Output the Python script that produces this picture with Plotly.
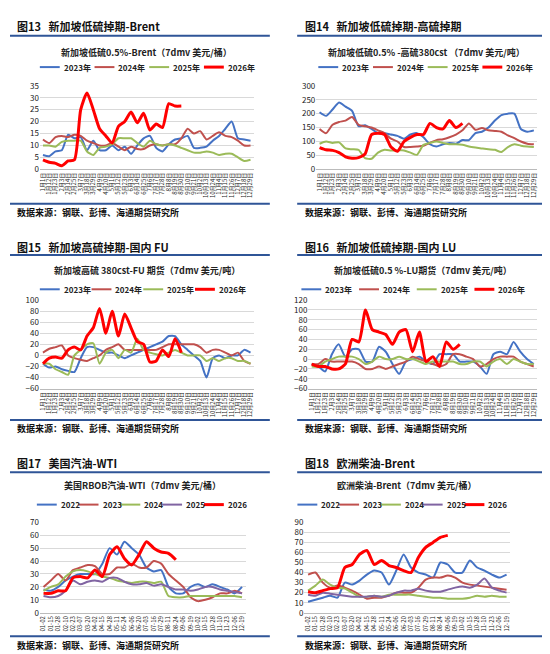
import plotly.graph_objects as go

# x-axis tick labels
days_a = ["1月1日", "1月12日", "1月23日", "2月3日", "2月14日", "2月25日", "3月7日", "3月18日", "3月29日",
          "4月9日", "4月20日", "5月1日", "5月12日", "5月23日", "6月3日", "6月14日", "6月25日", "7月6日",
          "7月17日", "7月28日", "8月8日", "8月19日", "8月30日", "9月10日", "9月21日", "10月2日", "10月13日",
          "10月24日", "11月4日", "11月15日", "11月26日", "12月7日", "12月18日", "12月29日"]
days_b = ["01-02", "01-15", "01-28", "02-10", "02-23", "03-07", "03-20", "04-02", "04-15", "04-28",
          "05-11", "05-24", "06-06", "06-20", "07-03", "07-16", "07-29", "08-11", "08-24", "09-06",
          "09-19", "10-02", "10-15", "10-28", "11-10", "11-23", "12-06", "12-19"]

# 图13 新加坡低硫-Brent
f13_2023 = [6, 5.5, 7.5, 8, 14.5, 13, 13.5, 8, 12, 8, 8, 10, 8, 9.5, 6.5, 10, 13, 14, 9, 7.5, 10.5, 12.5, 13, 14,
            9, 9, 9.5, 12, 14, 17, 20, 13, 12.5, 12]
f13_2024 = [12.5, 11, 13.5, 14, 13.5, 14.5, 14, 12, 11, 10, 10, 11, 9.5, 8, 9.5, 8.5, 8.5, 10, 10.5, 10, 10.5,
            10.5, 13, 17, 15, 16, 12.5, 14, 15.5, 14, 13.5, 12, 10, 10]
f13_2025 = [10, 10, 9.5, 11.5, 12, 12, 12, 7.5, 6, 9, 9.5, 10.5, 13, 13, 13, 11, 9.5, 12, 10.5, 10, 10.5, 10, 9,
            8, 7, 7, 7.5, 7, 6, 6.5, 6.5, 5, 3.5, 4]
f13_2026 = [4, 3, 2.5, 1.5, 3.5, 4, 25, 32, 25, 17, 14, 11, 18, 20, 24, 19.5, 23.5, 16.5, 19, 17.5, 27.5, 26.5, 26.5]

# 图14 新加坡低硫-高硫380cst
f14_2023 = [205, 192, 215, 240, 225, 210, 155, 158, 145, 130, 130, 125, 120, 110, 125, 130, 115, 90, 82, 90, 95,
            92, 105, 105, 130, 135, 150, 175, 195, 200, 200, 145, 135, 140]
f14_2024 = [145, 130, 160, 170, 175, 188, 160, 155, 150, 140, 130, 110, 100, 80, 80, 82, 85, 95, 105, 108, 115,
            125, 140, 165, 142, 148, 140, 138, 135, 122, 112, 100, 92, 90]
f14_2025 = [92, 100, 95, 97, 75, 72, 70, 40, 38, 60, 70, 68, 68, 68, 60, 52, 88, 95, 100, 95, 90, 90, 88, 82, 78,
            75, 72, 70, 62, 80, 90, 85, 82, 80]
f14_2026 = [78, 70, 68, 60, 45, 40, 42, 55, 125, 130, 125, 80, 65, 100, 115, 125, 125, 165, 150, 145, 175, 150, 165]

# 图15 高硫380cst-FU
f15_2023 = [-15, -22, -20, -25, -28, -30, -5, 15, 15, 10, 5, 5, 0, -5, 0, 5, 10, 15, 20, 25, 35, 35, 20, 10, 0,
            -10, -40, -5, 0, -5, 0, 0, 10, 5]
f15_2024 = [5, 12, 15, 18, 0, -5, -8, -10, -5, 0, 10, 15, 20, 10, 10, 10, 10, 10, 10, 15, 20, 20, 20, 20, 20, 15,
            5, 10, 10, 5, 0, 5, -10, -15]
f15_2025 = [-15, -15, -25, -30, -35, 0, 10, 20, 22, -15, 5, 10, -5, 10, 5, 30, 10, 5, 2, 0, 5, 10, 5, 0, 0, 0,
            -10, -5, -10, -5, -5, -10, -10, -15]
f15_2026 = [-15, -5, -3, -5, 10, 15, 10, 35, 50, 85, 40, 80, 35, 75, 50, 25, 20, -12, -10, 10, -2, 30, 5]

# 图16 低硫0.5%-LU
f16_2023 = [-10, -15, -25, 10, 30, 5, 20, 20, -5, -5, 25, 15, -10, -30, -5, 0, 5, -5, -10, 10, 10, 10, -5, -5,
            -5, -15, -30, 10, 15, 10, 35, 15, 0, -10]
f16_2024 = [-10, -10, 0, -5, -5, -5, -5, -10, -20, -20, -15, -20, -15, -10, -5, 5, 0, -5, -10, -15, -10, 10, 10,
            5, 0, -15, -10, 0, 5, 5, 5, -5, -10, -15]
f16_2025 = [-15, -15, -5, 0, 5, 5, 5, 0, -10, -5, 5, 0, 0, 5, 0, 0, -5, -10, -5, -5, -5, -5, -10, -10, -5, -5,
            -15, -5, 0, -10, 0, -5, -10, -10]
f16_2026 = [-10, -15, -15, -20, -20, -10, 40, 35, 100, 60, 55, 50, 30, 55, 60, 15, 55, -5, 5, -15, 35, 20, 30]

# 图17 美国RBOB汽油-WTI
f17_2022 = [18, 17, 20, 25, 28, 30, 30, 30, 38, 50, 45, 55, 50, 45, 35, 32, 33, 20, 15, 15, 20, 22, 20, 22, 20,
            18, 15, 20]
f17_2023 = [20, 25, 30, 25, 33, 35, 37, 36, 30, 30, 35, 35, 38, 35, 35, 40, 38, 30, 25, 20, 12, 9, 10, 12, 15,
            15, 17, 15]
f17_2024 = [17, 20, 22, 28, 32, 33, 32, 30, 28, 27, 25, 24, 23, 24, 24, 23, 24, 13, 12, 12, 13, 13, 13, 13, 13,
            13, 13, 12]
f17_2025 = [13, 12, 13, 17, 25, 22, 24, 25, 24, 27, 27, 24, 22, 22, 23, 21, 22, 20, 18, 18, 17, 18, 20, 20, 18,
            17, 16, 15]
f17_2026 = [15, 15, 17, 17, 27, 28, 27, 33, 28, 45, 51, 42, 37, 45, 55, 50, 47, 46, 41]

# 图18 欧洲柴油-Brent
f18_2022 = [11, 13, 15, 17, 15, 30, 28, 32, 38, 42, 40, 28, 42, 58, 45, 40, 38, 35, 50, 48, 40, 40, 52, 45, 42,
            38, 35, 38]
f18_2023 = [38, 40, 30, 25, 27, 25, 22, 18, 14, 15, 15, 17, 20, 20, 20, 25, 33, 35, 35, 37, 35, 30, 28, 27, 26,
            25, 24, 23]
f18_2024 = [22, 27, 33, 28, 25, 24, 20, 16, 16, 17, 16, 18, 18, 18, 18, 17, 16, 15, 15, 14, 14, 14, 15, 17, 16,
            17, 16, 16]
f18_2025 = [18, 17, 20, 19, 18, 17, 16, 16, 16, 17, 16, 17, 20, 22, 22, 24, 22, 21, 21, 23, 25, 26, 25, 28, 34,
            25, 22, 20]
f18_2026 = [21, 20, 22, 24, 25, 45, 48, 58, 62, 48, 52, 47, 45, 42, 40, 55, 65, 70, 75, 77]

BLUE = "#4472C4"
BROWN = "#C0504D"
GREEN = "#9BBB59"
PURPLE = "#8064A2"
RED = "#FF0000"
HEAD = "#2F5597"
FONT = "Noto Sans CJK SC"

W, H = 550, 654
def py(v):
    return 1 - v / H

panels = [
    dict(head="图13   新加坡低硫掉期-Brent", title="新加坡低硫0.5%-Brent（7dmv 美元/桶）", labels=days_a,
         series=[("2023年", f13_2023, BLUE), ("2024年", f13_2024, BROWN), ("2025年", f13_2025, GREEN), ("2026年", f13_2026, RED)],
         rng=[0, 35], dt=5, x=(30, 245), row=0, leg=(30, 55)),
    dict(head="图14   新加坡低硫掉期-高硫掉期", title="新加坡低硫0.5% -高硫380cst （7dmv 美元/吨）", labels=days_a,
         series=[("2023年", f14_2023, BLUE), ("2024年", f14_2024, BROWN), ("2025年", f14_2025, GREEN), ("2026年", f14_2026, RED)],
         rng=[0, 300], dt=50, x=(308, 530), row=0, leg=(310, 55)),
    dict(head="图15   新加坡高硫掉期-国内 FU", title="新加坡高硫 380cst-FU 期货（7dmv 美元/吨）", labels=days_a,
         series=[("2023年", f15_2023, BLUE), ("2024年", f15_2024, BROWN), ("2025年", f15_2025, GREEN), ("2026年", f15_2026, RED)],
         rng=[-60, 100], dt=20, x=(30, 245), row=1, leg=(30, 52)),
    dict(head="图16   新加坡低硫掉期-国内 LU", title="新加坡低硫0.5 %-LU期货（7dmv 美元/吨）", labels=days_a,
         series=[("2023年", f16_2023, BLUE), ("2024年", f16_2024, BROWN), ("2025年", f16_2025, GREEN), ("2026年", f16_2026, RED)],
         rng=[-60, 120], dt=20, x=(300, 530), row=1, leg=(293, 58)),
    dict(head="图17   美国汽油-WTI", title="美国RBOB汽油-WTI（7dmv 美元/桶）", labels=days_b,
         series=[("2022", f17_2022, BLUE), ("2023", f17_2023, BROWN), ("2024", f17_2024, GREEN), ("2025", f17_2025, PURPLE), ("2026", f17_2026, RED)],
         rng=[0, 70], dt=10, x=(30, 237), row=2, leg=(27, 42)),
    dict(head="图18   欧洲柴油-Brent", title="欧洲柴油-Brent（7dmv 美元/桶）", labels=days_b,
         series=[("2022", f18_2022, BLUE), ("2023", f18_2023, BROWN), ("2024", f18_2024, GREEN), ("2025", f18_2025, PURPLE), ("2026", f18_2026, RED)],
         rng=[0, 90], dt=10, x=(296, 503), row=2, leg=(289, 42)),
]

# pixel rows: header, header line, title, legend, plot top, plot bottom, source line, source
rows = [
    dict(head=12, hline=22, title=39, legend=54, top=73, bot=158, sline=193, src=202),
    dict(head=237, hline=245, title=261, legend=280, top=291, bot=381, sline=413, src=422),
    dict(head=457, hline=466, title=480, legend=499, top=517, bot=609, sline=633, src=642),
]

fig = go.Figure()
annotations = []
shapes = []
layout = {}

for i, p in enumerate(panels):
    n = i + 1
    r = rows[p["row"]]
    xa = "x" if n == 1 else f"x{n}"
    ya = "y" if n == 1 else f"y{n}"
    left = p["x"][0] / W
    right = p["x"][1] / W
    col_l = 0.0 if p["x"][0] < 275 else 0.525
    col_r = 0.475 if p["x"][0] < 275 else 1.0

    lx, step = p["leg"]
    for k, (name, vals, color) in enumerate(p["series"]):
        fig.add_trace(go.Scatter(
            x=p["labels"][:len(vals)], y=vals, mode="lines", name=name, showlegend=False,
            line=dict(color=color, width=3 if color == RED else 2, shape="spline", smoothing=0.6),
            xaxis=xa, yaxis=ya))
        # hand-drawn legend entry
        x0 = lx + k * step
        shapes.append(dict(type="line", xref="paper", yref="paper", x0=x0 / W, x1=(x0 + 20) / W,
                           y0=py(r["legend"]), y1=py(r["legend"]),
                           line=dict(color=color, width=3 if color == RED else 2)))
        annotations.append(dict(text="<b>" + name + "</b>", x=(x0 + 22) / W, y=py(r["legend"]), xref="paper", yref="paper",
                                xanchor="left", yanchor="middle", showarrow=False,
                                font=dict(size=8, family=FONT, color="#222")))

    layout["xaxis" if n == 1 else f"xaxis{n}"] = dict(
        domain=[left, right], anchor=ya, type="category", categoryorder="array",
        categoryarray=p["labels"], tickmode="array", tickvals=p["labels"], ticktext=p["labels"],
        tickangle=-90, tickfont=dict(size=6, family=FONT, color="#222"), showgrid=False,
        showline=True, linecolor="#bbb", ticks="", range=[-0.5, len(p["labels"]) - 0.5])
    layout["yaxis" if n == 1 else f"yaxis{n}"] = dict(
        domain=[py(r["bot"]), py(r["top"])], anchor=xa, range=p["rng"], dtick=p["dt"],
        tickfont=dict(size=8, family=FONT, color="#222"), gridcolor="#d9d9d9", gridwidth=1,
        zeroline=False, showline=False)

    annotations.append(dict(text="<b>" + p["head"] + "</b>", x=col_l + 0.01, y=py(r["head"]), xref="paper", yref="paper",
                            xanchor="left", yanchor="middle", showarrow=False, font=dict(size=11, family=FONT, color="#111")))
    annotations.append(dict(text="<b>" + p["title"] + "</b>", x=(left + right) / 2, y=py(r["title"]), xref="paper", yref="paper",
                            xanchor="center", yanchor="middle", showarrow=False, font=dict(size=9, family=FONT, color="#222")))
    annotations.append(dict(text="<b>数据来源：钢联、彭博、海通期货研究所</b>", x=col_l + 0.01, y=py(r["src"]), xref="paper", yref="paper",
                            xanchor="left", yanchor="middle", showarrow=False, font=dict(size=9, family=FONT, color="#111")))
    for yy in (r["hline"], r["sline"]):
        shapes.append(dict(type="line", xref="paper", yref="paper", x0=col_l, x1=col_r, y0=py(yy), y1=py(yy),
                           line=dict(color=HEAD, width=2)))

fig.update_layout(
    width=W, height=H, margin=dict(l=0, r=0, t=0, b=0),
    plot_bgcolor="white", paper_bgcolor="white", showlegend=False,
    annotations=annotations, shapes=shapes, **layout)

fig.write_html("out.html")
